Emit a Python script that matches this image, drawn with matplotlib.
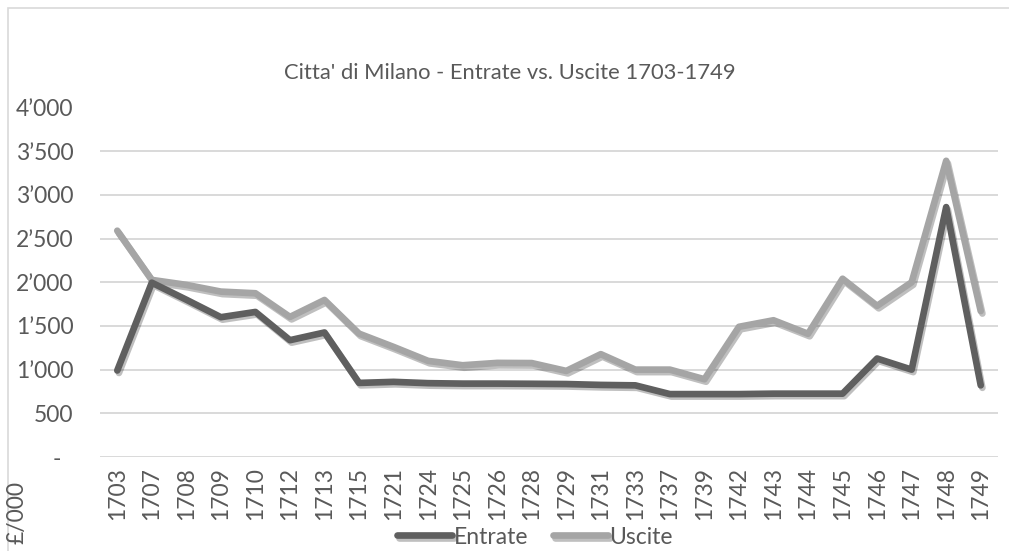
import matplotlib
matplotlib.use('Agg')
import matplotlib.pyplot as plt
import matplotlib.patheffects as pe
from matplotlib.ticker import FuncFormatter

plt.rcParams['font.family'] = ['Lato', 'DejaVu Sans']

years = ['1703', '1707', '1708', '1709', '1710', '1712', '1713', '1715', '1721',
         '1724', '1725', '1726', '1728', '1729', '1731', '1733', '1737', '1739',
         '1742', '1743', '1744', '1745', '1746', '1747', '1748', '1749']
entrate = [990, 1995, 1800, 1600, 1660, 1337, 1425, 848, 860,
           845, 840, 840, 838, 835, 825, 820, 720, 720,
           720, 725, 725, 725, 1127, 1000, 2860, 820]
uscite = [2590, 2027, 1970, 1893, 1874, 1603, 1797, 1412, 1260,
          1100, 1050, 1077, 1075, 985, 1177, 1000, 1000, 890,
          1490, 1565, 1410, 2040, 1730, 2000, 3390, 1670]

txt = '#595959'
grid = '#d9d9d9'
fs = 16.5


def fmt(v, pos):
    # accounting style: zero shown as a dash
    if v == 0:
        return '-  '
    return '{:,.0f}'.format(v).replace(',', '\u2019')


fig = plt.figure(figsize=(10.09, 5.51), dpi=100)
ax = fig.add_axes([100 / 1009, 94 / 551, 898 / 1009, 349.5 / 551])

shadow = [pe.SimpleLineShadow(offset=(1.2, -1.8), shadow_color='k', alpha=0.25), pe.Normal()]
x = list(range(len(years)))
ax.plot(x, entrate, color='#5f5f5f', lw=4.8, solid_capstyle='round', solid_joinstyle='round',
        label='Entrate', path_effects=shadow, zorder=3)
ax.plot(x, uscite, color='#a5a5a5', lw=4.8, solid_capstyle='round', solid_joinstyle='round',
        label='Uscite', path_effects=shadow, zorder=2)

ax.set_xlim(-0.5, len(years) - 0.5)
ax.set_ylim(0, 4000)
ax.set_yticks(range(0, 4001, 500))
ax.yaxis.set_major_formatter(FuncFormatter(fmt))
ax.set_xticks(x)
ax.set_xticklabels(years, rotation=90)
ax.tick_params(axis='both', length=0, labelsize=fs, labelcolor=txt)
ax.tick_params(axis='y', pad=19)
ax.tick_params(axis='x', pad=7)
ax.grid(axis='y', color=grid, lw=1.4)
ax.set_axisbelow(True)
for s in ax.spines.values():
    s.set_visible(False)

fig.text(510 / 1009, 1 - 73 / 551, "Citta' di Milano - Entrate vs. Uscite 1703-1749",
         ha='center', va='center', fontsize=15.8, color=txt)
fig.text(17 / 1009, 1 - 512 / 551, '\u00a3/000', rotation=90, ha='center', va='center',
         fontsize=fs, color=txt)

leg = fig.legend(loc='center', bbox_to_anchor=(535 / 1009, 14 / 551), ncol=2, frameon=False,
                 fontsize=fs, handlelength=2.4, handletextpad=0.05, columnspacing=1.1)
for t in leg.get_texts():
    t.set_color(txt)

# chart border
fig.add_artist(plt.Rectangle((8 / 1009, -0.1), 1.2, 1 - 8 / 551 + 0.1, transform=fig.transFigure,
                             fill=False, edgecolor=grid, lw=1.2))

fig.savefig('out.png', dpi=100)
